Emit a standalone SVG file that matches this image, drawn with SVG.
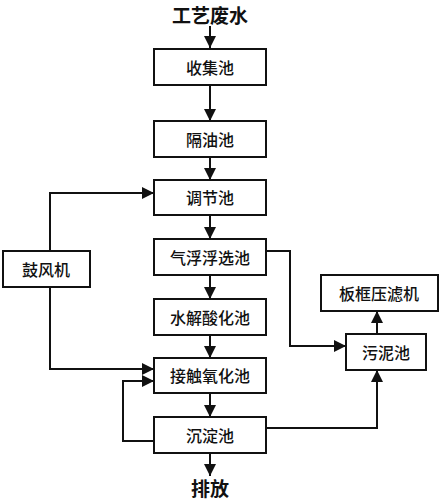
<svg xmlns="http://www.w3.org/2000/svg" width="444" height="500" viewBox="0 0 444 500">
<defs>
<style>
.box{fill:#fff;stroke:#111;stroke-width:2}
.t{font-family:"Noto Sans CJK SC","Noto Sans",sans-serif;font-size:16px;font-weight:500;fill:#111;text-anchor:middle;dominant-baseline:central}
.big{font-family:"Noto Sans CJK SC","Noto Sans",sans-serif;font-size:19px;font-weight:bold;fill:#111;text-anchor:middle;dominant-baseline:central}
.c{fill:none;stroke:#111;stroke-width:2}
</style>
<marker id="a" viewBox="0 0 10 10" refX="10" refY="5" markerWidth="12" markerHeight="12" orient="auto" markerUnits="userSpaceOnUse">
<path d="M0,0 L10,5 L0,10 Z" fill="#111"/>
</marker>
</defs>
<g id="connectors">
<path class="c" d="M210,26 V48" marker-end="url(#a)"/>
<path class="c" d="M210,85 V121" marker-end="url(#a)"/>
<path class="c" d="M210,157 V180" marker-end="url(#a)"/>
<path class="c" d="M210,215 V239" marker-end="url(#a)"/>
<path class="c" d="M210,275 V299" marker-end="url(#a)"/>
<path class="c" d="M210,335 V358" marker-end="url(#a)"/>
<path class="c" d="M210,393 V417" marker-end="url(#a)"/>
<path class="c" d="M210,453 V476" marker-end="url(#a)"/>
<path class="c" d="M50,251 V193 H154" marker-end="url(#a)"/>
<path class="c" d="M50,287 V369 H154" marker-end="url(#a)"/>
<path class="c" d="M154,441 H123 V381 H154" marker-end="url(#a)"/>
<path class="c" d="M266,251 H290 V346 H346" marker-end="url(#a)"/>
<path class="c" d="M266,428 H377 V370" marker-end="url(#a)"/>
<path class="c" d="M377,334 V311" marker-end="url(#a)"/>
</g>
<g id="src"><text class="big" x="210" y="14">工艺废水</text></g>
<g id="n1"><rect class="box" x="154" y="49" width="112" height="36"/><text class="t" x="210" y="67">收集池</text></g>
<g id="n2"><rect class="box" x="154" y="121" width="112" height="36"/><text class="t" x="210" y="139">隔油池</text></g>
<g id="n3"><rect class="box" x="154" y="180" width="112" height="35"/><text class="t" x="210" y="197">调节池</text></g>
<g id="n4"><rect class="box" x="154" y="239" width="112" height="36"/><text class="t" x="210" y="257">气浮浮选池</text></g>
<g id="n5"><rect class="box" x="154" y="299" width="112" height="36"/><text class="t" x="210" y="317">水解酸化池</text></g>
<g id="n6"><rect class="box" x="154" y="358" width="112" height="35"/><text class="t" x="210" y="375">接触氧化池</text></g>
<g id="n7"><rect class="box" x="154" y="417" width="112" height="36"/><text class="t" x="210" y="435">沉淀池</text></g>
<g id="out"><text class="big" x="210" y="487">排放</text></g>
<g id="blower"><rect class="box" x="3" y="251" width="87" height="36"/><text class="t" x="46" y="269">鼓风机</text></g>
<g id="sludge"><rect class="box" x="346" y="334" width="80" height="36"/><text class="t" x="386" y="352">污泥池</text></g>
<g id="press"><rect class="box" x="321" y="275" width="117" height="36"/><text class="t" x="379" y="293">板框压滤机</text></g>
</svg>
